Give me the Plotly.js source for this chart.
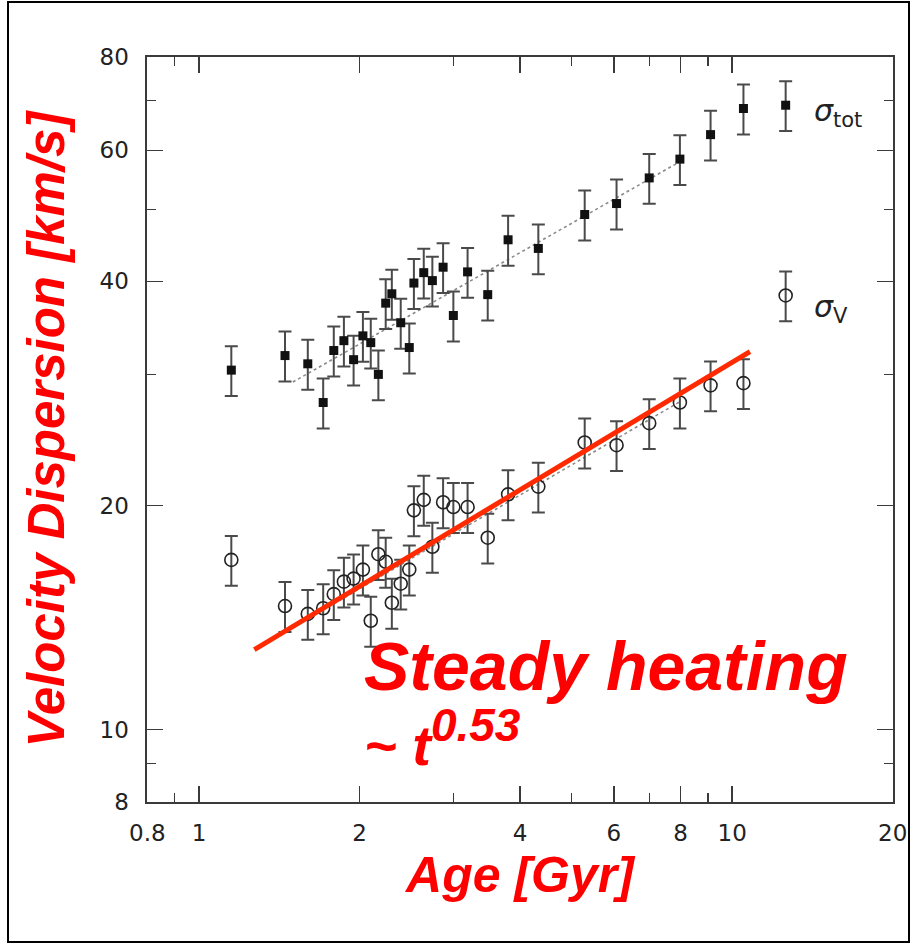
<!DOCTYPE html>
<html>
<head>
<meta charset="utf-8">
<script src="https://cdn.plot.ly/plotly-3.0.1.min.js"></script>
<style>
  html, body { margin: 0; padding: 0; background: #fff; }
  #chart { width: 911px; height: 944px; }
</style>
</head>
<body>
<div id="chart"></div>
<script>
// ---- data ----
const ageGyr = [1.15, 1.45, 1.60, 1.71, 1.79, 1.87, 1.95, 2.03, 2.10, 2.17, 2.24, 2.30, 2.39, 2.48, 2.53,
                2.64, 2.74, 2.87, 3.00, 3.19, 3.48, 3.80, 4.33, 5.29, 6.07, 6.99, 7.98, 9.11, 10.5];
const sigmaTot = [30.4, 31.8, 31.0, 27.5, 32.3, 33.3, 31.4, 33.8, 33.1, 30.0, 37.4, 38.5, 35.2, 32.6, 39.8,
                  41.1, 40.1, 41.8, 36.0, 41.2, 38.4, 45.5, 44.3, 49.2, 50.9, 55.1, 58.4, 63.0, 68.3];
const sigmaV = [16.9, 14.65, 14.3, 14.55, 15.2, 15.8, 15.95, 16.4, 14.0, 17.2, 16.8, 14.8, 15.7, 16.4, 19.7,
                20.35, 17.6, 20.2, 19.9, 19.9, 18.1, 20.7, 21.2, 24.3, 24.1, 25.8, 27.5, 29.0, 29.2];
const errPercent = 7.7;

// legend key symbols
const keyAge = [12.6];
const keyTot = [69.0];
const keyV = [38.3];

// dotted fit lines
const fitTotAge = [1.5, 8.0];
const fitTotV = [29.3, 58.0];
const fitVAge = [1.5, 8.0];
const fitVV = [13.7, 27.6];

// red "steady heating" line
const heatAge = [1.27, 10.8];
const heatV = [12.8, 32.2];

const xTicks = [0.8, 1, 2, 4, 6, 8, 10, 20];
const xTickText = ['0.8', '1', '2', '4', '6', '8', '10', '20'];
const xMinor = [0.9, 3, 5, 7, 9];
const yTicks = [8, 10, 20, 40, 60, 80];
const yTickText = ['8', '10', '20', '40', '60', '80'];
const yMinor = [9, 30, 50, 70];

// ---- styles ----
const errStyle = {type: 'percent', value: errPercent, visible: true, color: '#4a4a4a', thickness: 2, width: 6.5};

const traces = [
  {x: fitTotAge, y: fitTotV, mode: 'lines', line: {color: '#8a8a8a', width: 1.6, dash: 'dot'}, hoverinfo: 'skip'},
  {x: fitVAge, y: fitVV, mode: 'lines', line: {color: '#8a8a8a', width: 1.6, dash: 'dot'}, hoverinfo: 'skip'},
  {x: ageGyr, y: sigmaTot, mode: 'markers', name: 'σ_tot',
   marker: {symbol: 'square', size: 9, color: '#111'}, error_y: errStyle},
  {x: ageGyr, y: sigmaV, mode: 'markers', name: 'σ_V',
   marker: {symbol: 'circle-open', size: 13, color: '#222', line: {width: 1.6, color: '#222'}}, error_y: errStyle},
  {x: keyAge, y: keyTot, mode: 'markers', marker: {symbol: 'square', size: 9, color: '#111'}, error_y: errStyle},
  {x: keyAge, y: keyV, mode: 'markers',
   marker: {symbol: 'circle-open', size: 13, color: '#222', line: {width: 1.6, color: '#222'}}, error_y: errStyle},
  {x: heatAge, y: heatV, mode: 'lines', line: {color: '#ff2a00', width: 5}, hoverinfo: 'skip'}
];

const L = 147, R = 18, T = 57, B = 142;
const W = 911, H = 944;
const pw = W - L - R, ph = H - T - B;
const px = v => (v - L) / pw;          // page x -> paper x
const py = v => (H - B - v) / ph;      // page y -> paper y

const redFont = {family: 'Liberation Sans, Arial, sans-serif', color: '#ff0000', weight: 700, style: 'italic'};

const axisCommon = {
  type: 'log',
  showgrid: false, zeroline: false,
  showline: true, linecolor: '#3a3a3a', linewidth: 1.6, mirror: 'allticks',
  ticks: 'inside', ticklen: 16, tickwidth: 1.6, tickcolor: '#3a3a3a',
  tickmode: 'array',
  tickfont: {family: 'DejaVu Sans, sans-serif', size: 23, color: '#222'}
};

const layout = {
  width: W, height: H,
  margin: {l: L, r: R, t: T, b: B},
  paper_bgcolor: '#fff', plot_bgcolor: '#fff',
  showlegend: false,
  xaxis: Object.assign({}, axisCommon, {
    range: [Math.log10(0.799), Math.log10(20.03)],
    tickvals: xTicks, ticktext: xTickText,
    ticklabelstandoff: 10,
    minor: {tickmode: 'array', tickvals: xMinor, ticks: 'inside', ticklen: 9, tickwidth: 1.6, tickcolor: '#3a3a3a'},
    title: {text: 'Age [Gyr]', standoff: 12, font: Object.assign({size: 50}, redFont)}
  }),
  yaxis: Object.assign({}, axisCommon, {
    range: [Math.log10(7.99), Math.log10(80.1)],
    tickvals: yTicks, ticktext: yTickText,
    ticklabelstandoff: 12,
    minor: {tickmode: 'array', tickvals: yMinor, ticks: 'inside', ticklen: 9, tickwidth: 1.6, tickcolor: '#3a3a3a'},
    title: {text: 'Velocity Dispersion [km/s]', standoff: 18, font: Object.assign({size: 51}, redFont)}
  }),
  annotations: [
    {xref: 'paper', yref: 'paper', x: px(812), y: py(112), xanchor: 'left', yanchor: 'middle', showarrow: false,
     text: '<i>σ</i><sub>tot</sub>', font: {family: 'DejaVu Sans, sans-serif', size: 30, color: '#222'}},
    {xref: 'paper', yref: 'paper', x: px(812), y: py(308), xanchor: 'left', yanchor: 'middle', showarrow: false,
     text: '<i>σ</i><sub>V</sub>', font: {family: 'DejaVu Sans, sans-serif', size: 30, color: '#222'}},
    {xref: 'paper', yref: 'paper', x: px(362), y: py(706), xanchor: 'left', yanchor: 'bottom', showarrow: false,
     text: 'Steady heating', font: Object.assign({size: 68}, redFont)},
    {xref: 'paper', yref: 'paper', x: px(362), y: py(697), xanchor: 'left', yanchor: 'top', showarrow: false,
     text: '~ t<sup><span style="font-size:46px">0.53</span></sup>', font: Object.assign({size: 56}, redFont)}
  ],
  shapes: [
    {type: 'rect', xref: 'paper', yref: 'paper', x0: px(8), x1: px(909), y0: py(942), y1: py(2),
     line: {color: '#000', width: 2}, fillcolor: 'rgba(0,0,0,0)', layer: 'above'}
  ]
};

Plotly.newPlot('chart', traces, layout, {staticPlot: true, displayModeBar: false});
</script>
</body>
</html>
